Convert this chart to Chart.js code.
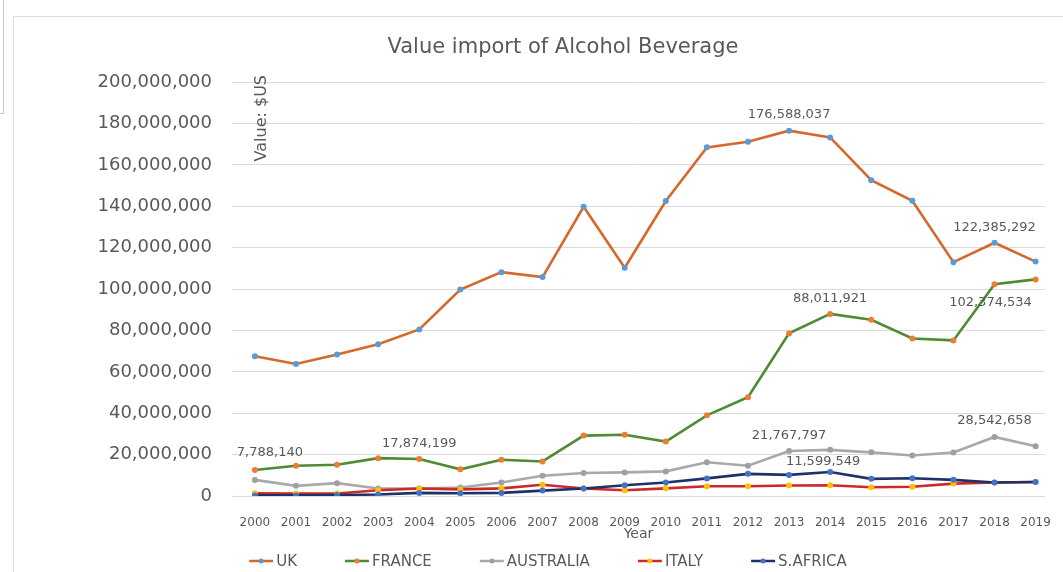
<!DOCTYPE html>
<html>
<head>
<meta charset="utf-8">
<title>Value import of Alcohol Beverage</title>
<script src="https://cdn.jsdelivr.net/npm/chart.js@4.4.1/dist/chart.umd.min.js"></script>
<style>
  html, body { margin: 0; padding: 0; background: #fff; overflow: hidden; }
  #wrap { position: relative; width: 1063px; height: 572px; overflow: hidden; }
  #side { position: absolute; left: -10px; top: -10px; width: 12px; height: 122px; border: 1px solid #c9c9c9; }
  #frame { position: absolute; left: 13px; top: 16px; width: 1200px; height: 700px; border: 1px solid #dedede; }
  canvas { position: absolute; left: 0; top: 0; }
</style>
</head>
<body>
<div id="wrap">
  <div id="side"></div>
  <div id="frame"></div>
  <canvas id="importChart" width="1063" height="572"></canvas>
</div>
<script>
// Import values in US$, one entry per year
const years = [2000, 2001, 2002, 2003, 2004, 2005, 2006, 2007, 2008, 2009,
               2010, 2011, 2012, 2013, 2014, 2015, 2016, 2017, 2018, 2019];

const uk = [67500000, 63800000, 68400000, 73300000, 80500000, 99800000, 108200000, 105800000, 139800000, 110300000,
            142600000, 168500000, 171200000, 176588037, 173300000, 152600000, 142700000, 113000000, 122385292, 113300000];
const france = [12600000, 14600000, 15100000, 18300000, 17874199, 12900000, 17500000, 16700000, 29200000, 29600000,
                26300000, 39000000, 47700000, 78600000, 88011921, 85200000, 76100000, 75200000, 102374534, 104700000];
const australia = [7788140, 4900000, 6200000, 3600000, 3600000, 4100000, 6500000, 9800000, 11100000, 11400000,
                   11900000, 16300000, 14600000, 21767797, 22300000, 21100000, 19600000, 21000000, 28542658, 24000000];
const italy = [1300000, 1200000, 1200000, 2800000, 3600000, 3200000, 3700000, 5400000, 3600000, 2800000,
               3700000, 4700000, 4700000, 5100000, 5200000, 4200000, 4500000, 6000000, 6500000, 6800000];
const southAfrica = [300000, 300000, 500000, 700000, 1500000, 1300000, 1500000, 2600000, 3600000, 5200000,
                     6500000, 8500000, 10700000, 10200000, 11599549, 8300000, 8600000, 7800000, 6500000, 6800000];

const yTicks = [0, 20000000, 40000000, 60000000, 80000000, 100000000, 120000000, 140000000, 160000000, 180000000, 200000000];

// which points carry a value label, and where the text sits relative to the point
const valueLabels = [
  { series: 'UK', year: 2013, dx: 0, dy: -16 },
  { series: 'UK', year: 2018, dx: 0, dy: -15 },
  { series: 'FRANCE', year: 2004, dx: 0, dy: -15 },
  { series: 'FRANCE', year: 2014, dx: 0, dy: -15 },
  { series: 'FRANCE', year: 2018, dx: -4, dy: 18 },
  { series: 'AUSTRALIA', year: 2000, dx: 15, dy: -27 },
  { series: 'AUSTRALIA', year: 2013, dx: 0, dy: -15 },
  { series: 'AUSTRALIA', year: 2018, dx: 0, dy: -16 },
  { series: 'S.AFRICA', year: 2014, dx: -7, dy: -10 }
];

const textGray = '#595959';
Chart.defaults.font.family = '"DejaVu Sans", sans-serif';

function series(label, values, line, marker, order) {
  return {
    label: label,
    order: order,
    data: values.map((v, i) => ({ x: years[i], y: v })),
    borderColor: line,
    backgroundColor: marker,
    pointBackgroundColor: marker,
    pointBorderColor: marker,
    pointBorderWidth: 0,
    pointRadius: 3,
    pointHoverRadius: 3,
    borderWidth: 2.6,
    tension: 0
  };
}

const pointLabels = {
  id: 'pointLabels',
  afterDatasetsDraw(chart) {
    const ctx = chart.ctx;
    ctx.save();
    ctx.font = '13px "DejaVu Sans"';
    ctx.fillStyle = textGray;
    ctx.textAlign = 'center';
    ctx.textBaseline = 'middle';
    valueLabels.forEach(l => {
      const di = chart.data.datasets.findIndex(d => d.label === l.series);
      const idx = years.indexOf(l.year);
      const pt = chart.getDatasetMeta(di).data[idx];
      const v = chart.data.datasets[di].data[idx].y;
      ctx.fillText(v.toLocaleString('en-US'), pt.x + l.dx, pt.y + l.dy);
    });
    ctx.restore();
  }
};

// rotated axis caption sitting inside the plot, top left
const valueCaption = {
  id: 'valueCaption',
  afterDraw(chart) {
    const ctx = chart.ctx;
    const a = chart.chartArea;
    ctx.save();
    ctx.translate(a.left + 30, a.top + 36);
    ctx.rotate(-Math.PI / 2);
    ctx.font = '16px "DejaVu Sans"';
    ctx.fillStyle = textGray;
    ctx.textAlign = 'center';
    ctx.textBaseline = 'middle';
    ctx.fillText('Value: $US', 0, 0);
    ctx.restore();
  }
};

// legend with a short line + marker sample for every series
const lineLegend = {
  id: 'lineLegend',
  afterDraw(chart) {
    const ctx = chart.ctx;
    const sample = 24, gap = 3, spacing = 48, y = 561;
    const sets = chart.data.datasets;
    ctx.save();
    ctx.font = '15px "DejaVu Sans"';
    ctx.textBaseline = 'middle';
    const widths = sets.map(d => sample + gap + ctx.measureText(d.label).width);
    const total = widths.reduce((a, b) => a + b, 0) + spacing * (sets.length - 1);
    let x = 548 - total / 2;
    sets.forEach((d, i) => {
      ctx.strokeStyle = d.borderColor;
      ctx.lineWidth = 2.5;
      ctx.beginPath();
      ctx.moveTo(x, y);
      ctx.lineTo(x + sample, y);
      ctx.stroke();
      ctx.fillStyle = d.pointBackgroundColor;
      ctx.beginPath();
      ctx.arc(x + sample / 2, y, 2.5, 0, Math.PI * 2);
      ctx.fill();
      ctx.fillStyle = textGray;
      ctx.fillText(d.label, x + sample + gap, y + 1);
      x += widths[i] + spacing;
    });
    ctx.restore();
  }
};

new Chart(document.getElementById('importChart'), {
  type: 'line',
  data: {
    datasets: [
      series('UK', uk, '#d5692b', '#5b9bd5', 4),
      series('FRANCE', france, '#4f8a34', '#ed7d31', 3),
      series('AUSTRALIA', australia, '#a9a9a9', '#a0a0a0', 2),
      series('ITALY', italy, '#cc2a2a', '#ffc000', 1),
      series('S.AFRICA', southAfrica, '#1f3268', '#4472c4', 0)
    ]
  },
  plugins: [pointLabels, valueCaption, lineLegend],
  options: {
    responsive: false,
    animation: false,
    layout: { padding: { left: 74, right: 11, top: 0, bottom: 28 } },
    plugins: {
      legend: { display: false },
      tooltip: { enabled: false },
      title: {
        display: true,
        text: 'Value import of Alcohol Beverage',
        color: textGray,
        font: { size: 21, weight: 'normal' },
        padding: { top: 35, bottom: 22 }
      }
    },
    scales: {
      x: {
        type: 'linear',
        min: 1999.443,
        max: 2019.226,
        afterBuildTicks: axis => { axis.ticks = years.map(v => ({ value: v })); },
        afterFit: axis => { axis.height = 48; },
        grid: { display: false },
        border: { display: false },
        ticks: { color: textGray, font: { size: 12 }, padding: 12, autoSkip: false, maxRotation: 0, callback: v => String(v) },
        title: { display: true, text: 'Year', color: textGray, font: { size: 14 }, padding: { top: 0, bottom: 1 } }
      },
      y: {
        min: 0,
        max: 200000000,
        afterBuildTicks: axis => { axis.ticks = yTicks.map(v => ({ value: v })); },
        afterFit: axis => { axis.width = 158; },
        grid: { color: '#dadada', drawTicks: false },
        border: { display: false },
        ticks: { color: textGray, font: { size: 18 }, padding: 20, callback: v => v.toLocaleString('en-US') }
      }
    }
  }
});
</script>
</body>
</html>
